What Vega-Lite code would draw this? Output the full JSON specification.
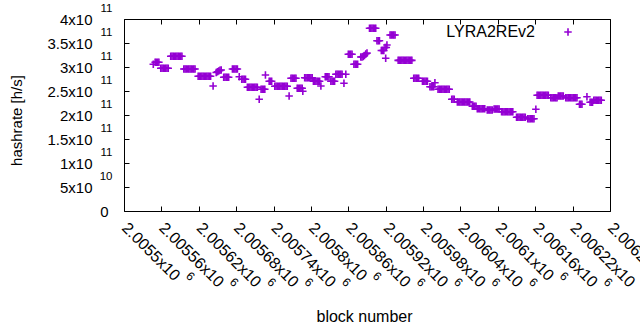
{
  "$schema": "https://vega.github.io/schema/vega-lite/v6.json",
  "width": 486,
  "height": 192,
  "autosize": {"type": "none"},
  "padding": {"left": 124, "top": 19, "right": 30, "bottom": 119},
  "background": "white",
  "config": {
    "view": {"stroke": "black", "strokeWidth": 1},
    "font": "Liberation Sans",
    "axis": {"domain": false, "grid": false, "labelFont": "Liberation Sans", "titleFont": "Liberation Sans", "labelColor": "black", "titleColor": "black", "tickColor": "black", "labelFontSize": 15, "titleFontSize": 15, "titleFontWeight": "normal", "tickWidth": 1, "labelOverlap": false, "labelFlush": false, "labelBound": false}
  },
  "data": {"values": [
    {"block":2005547,"hashrate":3.056e11},
    {"block":2005550,"hashrate":3.1e11},{"block":2005552,"hashrate":3.1e11},{"block":2005554,"hashrate":3.1e11},{"block":2005556,"hashrate":3.1e11},
    {"block":2005559,"hashrate":2.973e11},{"block":2005561,"hashrate":2.973e11},{"block":2005563,"hashrate":2.973e11},{"block":2005565,"hashrate":2.973e11},{"block":2005567,"hashrate":2.973e11},{"block":2005569,"hashrate":2.973e11},{"block":2005571,"hashrate":2.973e11},
    {"block":2005575,"hashrate":3.223e11},{"block":2005577,"hashrate":3.223e11},{"block":2005579,"hashrate":3.223e11},{"block":2005581,"hashrate":3.223e11},{"block":2005583,"hashrate":3.223e11},{"block":2005585,"hashrate":3.223e11},{"block":2005587,"hashrate":3.223e11},{"block":2005589,"hashrate":3.223e11},{"block":2005591,"hashrate":3.223e11},{"block":2005593,"hashrate":3.223e11},
    {"block":2005596,"hashrate":2.958e11},{"block":2005598,"hashrate":2.958e11},{"block":2005600,"hashrate":2.958e11},{"block":2005602,"hashrate":2.958e11},{"block":2005604,"hashrate":2.958e11},{"block":2005606,"hashrate":2.958e11},{"block":2005608,"hashrate":2.958e11},{"block":2005610,"hashrate":2.958e11},{"block":2005612,"hashrate":2.958e11},{"block":2005614,"hashrate":2.958e11},
    {"block":2005619,"hashrate":2.806e11},{"block":2005621,"hashrate":2.806e11},{"block":2005623,"hashrate":2.806e11},{"block":2005625,"hashrate":2.806e11},{"block":2005627,"hashrate":2.806e11},{"block":2005629,"hashrate":2.806e11},{"block":2005631,"hashrate":2.806e11},{"block":2005633,"hashrate":2.806e11},{"block":2005635,"hashrate":2.806e11},{"block":2005637,"hashrate":2.806e11},{"block":2005639,"hashrate":2.806e11},
    {"block":2005643,"hashrate":2.604e11},
    {"block":2005648,"hashrate":2.885e11},{"block":2005650,"hashrate":2.9e11},{"block":2005652,"hashrate":2.917e11},{"block":2005654,"hashrate":2.93e11},{"block":2005656,"hashrate":2.937e11},
    {"block":2005660,"hashrate":2.785e11},{"block":2005662,"hashrate":2.785e11},{"block":2005664,"hashrate":2.785e11},{"block":2005666,"hashrate":2.785e11},{"block":2005668,"hashrate":2.785e11},
    {"block":2005674,"hashrate":2.958e11},{"block":2005676,"hashrate":2.958e11},{"block":2005678,"hashrate":2.958e11},{"block":2005680,"hashrate":2.958e11},{"block":2005682,"hashrate":2.958e11},
    {"block":2005685,"hashrate":2.798e11},
    {"block":2005689,"hashrate":2.744e11},{"block":2005691,"hashrate":2.744e11},{"block":2005693,"hashrate":2.744e11},{"block":2005695,"hashrate":2.744e11},
    {"block":2005698,"hashrate":2.577e11},{"block":2005700,"hashrate":2.577e11},{"block":2005702,"hashrate":2.577e11},{"block":2005704,"hashrate":2.577e11},{"block":2005706,"hashrate":2.577e11},{"block":2005708,"hashrate":2.577e11},{"block":2005710,"hashrate":2.577e11},{"block":2005712,"hashrate":2.577e11},{"block":2005714,"hashrate":2.577e11},
    {"block":2005717,"hashrate":2.327e11},
    {"block":2005720,"hashrate":2.535e11},{"block":2005722,"hashrate":2.535e11},{"block":2005724,"hashrate":2.535e11},{"block":2005726,"hashrate":2.535e11},
    {"block":2005727,"hashrate":2.833e11},
    {"block":2005733,"hashrate":2.702e11},{"block":2005735,"hashrate":2.702e11},{"block":2005737,"hashrate":2.702e11},
    {"block":2005742,"hashrate":2.598e11},{"block":2005744,"hashrate":2.598e11},{"block":2005746,"hashrate":2.598e11},{"block":2005748,"hashrate":2.598e11},{"block":2005750,"hashrate":2.598e11},{"block":2005752,"hashrate":2.598e11},{"block":2005754,"hashrate":2.598e11},{"block":2005756,"hashrate":2.598e11},{"block":2005758,"hashrate":2.598e11},{"block":2005760,"hashrate":2.598e11},{"block":2005762,"hashrate":2.598e11},
    {"block":2005765,"hashrate":2.396e11},
    {"block":2005768,"hashrate":2.765e11},{"block":2005770,"hashrate":2.765e11},{"block":2005772,"hashrate":2.765e11},{"block":2005774,"hashrate":2.765e11},{"block":2005776,"hashrate":2.765e11},
    {"block":2005778,"hashrate":2.556e11},{"block":2005780,"hashrate":2.556e11},{"block":2005782,"hashrate":2.556e11},{"block":2005784,"hashrate":2.556e11},{"block":2005786,"hashrate":2.556e11},
    {"block":2005787,"hashrate":2.494e11},
    {"block":2005790,"hashrate":2.777e11},{"block":2005792,"hashrate":2.777e11},{"block":2005794,"hashrate":2.777e11},{"block":2005796,"hashrate":2.777e11},{"block":2005798,"hashrate":2.777e11},{"block":2005800,"hashrate":2.777e11},{"block":2005802,"hashrate":2.777e11},
    {"block":2005804,"hashrate":2.702e11},{"block":2005806,"hashrate":2.702e11},{"block":2005808,"hashrate":2.702e11},{"block":2005810,"hashrate":2.702e11},{"block":2005812,"hashrate":2.702e11},{"block":2005814,"hashrate":2.702e11},
    {"block":2005816,"hashrate":2.604e11},
    {"block":2005823,"hashrate":2.798e11},{"block":2005825,"hashrate":2.798e11},{"block":2005827,"hashrate":2.798e11},{"block":2005829,"hashrate":2.798e11},
    {"block":2005832,"hashrate":2.702e11},{"block":2005834,"hashrate":2.702e11},{"block":2005836,"hashrate":2.702e11},{"block":2005838,"hashrate":2.702e11},
    {"block":2005840,"hashrate":2.848e11},{"block":2005842,"hashrate":2.848e11},{"block":2005844,"hashrate":2.848e11},{"block":2005846,"hashrate":2.848e11},{"block":2005848,"hashrate":2.848e11},{"block":2005850,"hashrate":2.848e11},
    {"block":2005853,"hashrate":2.66e11},{"block":2005856,"hashrate":2.848e11},
    {"block":2005860,"hashrate":3.265e11},{"block":2005862,"hashrate":3.265e11},{"block":2005864,"hashrate":3.265e11},{"block":2005866,"hashrate":3.265e11},
    {"block":2005869,"hashrate":3.056e11},{"block":2005871,"hashrate":3.056e11},{"block":2005873,"hashrate":3.056e11},{"block":2005875,"hashrate":3.056e11},
    {"block":2005880,"hashrate":3.208e11},{"block":2005882,"hashrate":3.21e11},{"block":2005884,"hashrate":3.219e11},{"block":2005886,"hashrate":3.24e11},{"block":2005888,"hashrate":3.271e11},{"block":2005890,"hashrate":3.29e11},
    {"block":2005894,"hashrate":3.806e11},{"block":2005896,"hashrate":3.806e11},{"block":2005898,"hashrate":3.806e11},{"block":2005900,"hashrate":3.806e11},{"block":2005902,"hashrate":3.806e11},{"block":2005904,"hashrate":3.806e11},
    {"block":2005906,"hashrate":3.548e11},{"block":2005908,"hashrate":3.548e11},{"block":2005910,"hashrate":3.548e11},
    {"block":2005913,"hashrate":3.344e11},{"block":2005915,"hashrate":3.344e11},{"block":2005917,"hashrate":3.344e11},
    {"block":2005919,"hashrate":3.406e11},{"block":2005921,"hashrate":3.406e11},
    {"block":2005922,"hashrate":3.458e11},{"block":2005920,"hashrate":3.181e11},
    {"block":2005927,"hashrate":3.667e11},{"block":2005929,"hashrate":3.667e11},{"block":2005931,"hashrate":3.667e11},{"block":2005933,"hashrate":3.667e11},{"block":2005935,"hashrate":3.667e11},
    {"block":2005940,"hashrate":3.139e11},{"block":2005942,"hashrate":3.139e11},{"block":2005944,"hashrate":3.139e11},{"block":2005946,"hashrate":3.139e11},{"block":2005948,"hashrate":3.139e11},{"block":2005950,"hashrate":3.139e11},{"block":2005952,"hashrate":3.139e11},{"block":2005954,"hashrate":3.139e11},{"block":2005956,"hashrate":3.139e11},{"block":2005958,"hashrate":3.139e11},{"block":2005960,"hashrate":3.139e11},{"block":2005962,"hashrate":3.139e11},
    {"block":2005965,"hashrate":2.765e11},{"block":2005967,"hashrate":2.765e11},{"block":2005969,"hashrate":2.765e11},{"block":2005971,"hashrate":2.765e11},{"block":2005973,"hashrate":2.765e11},
    {"block":2005979,"hashrate":2.702e11},{"block":2005981,"hashrate":2.702e11},{"block":2005983,"hashrate":2.702e11},{"block":2005985,"hashrate":2.702e11},{"block":2005987,"hashrate":2.702e11},
    {"block":2005991,"hashrate":2.59e11},{"block":2005993,"hashrate":2.59e11},{"block":2005995,"hashrate":2.59e11},{"block":2005997,"hashrate":2.59e11},
    {"block":2005999,"hashrate":2.673e11},
    {"block":2006004,"hashrate":2.535e11},{"block":2006006,"hashrate":2.535e11},{"block":2006008,"hashrate":2.535e11},{"block":2006010,"hashrate":2.535e11},{"block":2006012,"hashrate":2.535e11},{"block":2006014,"hashrate":2.535e11},{"block":2006016,"hashrate":2.535e11},{"block":2006018,"hashrate":2.535e11},{"block":2006020,"hashrate":2.535e11},{"block":2006022,"hashrate":2.535e11},
    {"block":2006026,"hashrate":2.327e11},{"block":2006028,"hashrate":2.327e11},{"block":2006030,"hashrate":2.327e11},
    {"block":2006035,"hashrate":2.271e11},{"block":2006037,"hashrate":2.271e11},{"block":2006039,"hashrate":2.271e11},{"block":2006041,"hashrate":2.271e11},{"block":2006043,"hashrate":2.271e11},{"block":2006045,"hashrate":2.271e11},{"block":2006047,"hashrate":2.271e11},{"block":2006049,"hashrate":2.271e11},{"block":2006051,"hashrate":2.271e11},{"block":2006053,"hashrate":2.271e11},{"block":2006055,"hashrate":2.271e11},
    {"block":2006059,"hashrate":2.181e11},{"block":2006061,"hashrate":2.181e11},{"block":2006063,"hashrate":2.181e11},{"block":2006065,"hashrate":2.181e11},
    {"block":2006067,"hashrate":2.131e11},{"block":2006069,"hashrate":2.131e11},{"block":2006071,"hashrate":2.131e11},{"block":2006073,"hashrate":2.131e11},{"block":2006075,"hashrate":2.131e11},{"block":2006077,"hashrate":2.131e11},{"block":2006079,"hashrate":2.131e11},
    {"block":2006083,"hashrate":2.104e11},{"block":2006085,"hashrate":2.104e11},{"block":2006087,"hashrate":2.104e11},{"block":2006089,"hashrate":2.104e11},{"block":2006091,"hashrate":2.104e11},
    {"block":2006094,"hashrate":2.125e11},{"block":2006096,"hashrate":2.125e11},{"block":2006098,"hashrate":2.125e11},{"block":2006100,"hashrate":2.125e11},{"block":2006102,"hashrate":2.125e11},
    {"block":2006106,"hashrate":2.069e11},{"block":2006108,"hashrate":2.069e11},{"block":2006110,"hashrate":2.069e11},{"block":2006112,"hashrate":2.069e11},{"block":2006114,"hashrate":2.069e11},{"block":2006116,"hashrate":2.069e11},{"block":2006118,"hashrate":2.069e11},{"block":2006120,"hashrate":2.069e11},{"block":2006122,"hashrate":2.069e11},{"block":2006124,"hashrate":2.069e11},
    {"block":2006130,"hashrate":1.952e11},{"block":2006132,"hashrate":1.952e11},{"block":2006134,"hashrate":1.952e11},{"block":2006136,"hashrate":1.952e11},{"block":2006138,"hashrate":1.952e11},{"block":2006140,"hashrate":1.952e11},{"block":2006142,"hashrate":1.952e11},{"block":2006144,"hashrate":1.952e11},
    {"block":2006148,"hashrate":1.923e11},{"block":2006150,"hashrate":1.923e11},{"block":2006152,"hashrate":1.923e11},{"block":2006154,"hashrate":1.923e11},{"block":2006156,"hashrate":1.923e11},{"block":2006158,"hashrate":1.923e11},
    {"block":2006161,"hashrate":2.119e11},
    {"block":2006163,"hashrate":2.41e11},{"block":2006165,"hashrate":2.41e11},{"block":2006167,"hashrate":2.41e11},{"block":2006169,"hashrate":2.41e11},{"block":2006171,"hashrate":2.41e11},{"block":2006173,"hashrate":2.41e11},{"block":2006175,"hashrate":2.41e11},{"block":2006177,"hashrate":2.41e11},{"block":2006179,"hashrate":2.41e11},{"block":2006181,"hashrate":2.41e11},
    {"block":2006185,"hashrate":2.36e11},{"block":2006187,"hashrate":2.36e11},{"block":2006189,"hashrate":2.36e11},{"block":2006191,"hashrate":2.36e11},{"block":2006193,"hashrate":2.36e11},{"block":2006195,"hashrate":2.36e11},
    {"block":2006197,"hashrate":2.396e11},{"block":2006199,"hashrate":2.396e11},{"block":2006201,"hashrate":2.396e11},{"block":2006203,"hashrate":2.396e11},{"block":2006205,"hashrate":2.396e11},
    {"block":2006209,"hashrate":2.36e11},{"block":2006211,"hashrate":2.36e11},{"block":2006213,"hashrate":2.36e11},{"block":2006215,"hashrate":2.36e11},{"block":2006217,"hashrate":2.36e11},{"block":2006219,"hashrate":2.36e11},{"block":2006221,"hashrate":2.36e11},{"block":2006223,"hashrate":2.36e11},{"block":2006225,"hashrate":2.36e11},{"block":2006227,"hashrate":2.36e11},
    {"block":2006231,"hashrate":2.223e11},{"block":2006233,"hashrate":2.223e11},{"block":2006235,"hashrate":2.223e11},
    {"block":2006243,"hashrate":2.381e11},
    {"block":2006248,"hashrate":2.265e11},{"block":2006250,"hashrate":2.265e11},{"block":2006252,"hashrate":2.265e11},
    {"block":2006254,"hashrate":2.306e11},{"block":2006256,"hashrate":2.306e11},{"block":2006258,"hashrate":2.306e11},{"block":2006260,"hashrate":2.306e11},{"block":2006262,"hashrate":2.306e11},{"block":2006264,"hashrate":2.306e11},{"block":2006266,"hashrate":2.306e11}
  ]},
  "layer": [
    {
      "mark": {"type": "point", "shape": "M-1,0H1M0,-1V1", "filled": false, "strokeWidth": 1.6, "size": 56, "opacity": 1},
      "encoding": {
        "x": {"field": "block", "type": "quantitative", "scale": {"domain": [2005500, 2006280], "nice": false, "zero": false},
          "axis": {"orient": "bottom", "values": [2005500,2005560,2005620,2005680,2005740,2005800,2005860,2005920,2005980,2006040,2006100,2006160,2006220,2006280],
            "labelExpr": "(datum.value/1000000) + 'x10'", "labelAngle": 45, "labelAlign": "left", "labelBaseline": "middle", "labelFontSize": 16,
            "tickSize": -5, "labelPadding": 19, "title": "block number", "titleFontSize": 16, "titleX": 240, "titleY": 105, "titleBaseline": "middle", "titleAlign": "center", "titleAngle": 0}},
        "y": {"field": "hashrate", "type": "quantitative", "scale": {"domain": [0, 400000000000], "nice": false, "zero": true},
          "axis": {"orient": "left", "values": [0,50000000000,100000000000,150000000000,200000000000,250000000000,300000000000,350000000000,400000000000],
            "labelExpr": "datum.value == 0 ? '0' : (datum.value < 100000000000 ? (datum.value/10000000000) + 'x10' : (datum.value/100000000000) + 'x10')",
            "labelAlign": "right", "labelBaseline": "middle", "tickSize": -5,
            "labelPadding": {"condition": {"test": "datum.value == 0", "value": 21}, "value": 37},
            "title": "hashrate [h/s]", "titleX": -108, "titleY": 101, "titleAngle": 270, "titleAlign": "center", "titleBaseline": "middle"}},
        "color": {"datum": "LYRA2REv2", "type": "nominal", "scale": {"range": ["#9400d3"]},
          "legend": {"orient": "none", "legendX": 436, "legendY": 5, "title": null, "symbolType": "M-1,0H1M0,-1V1", "symbolSize": 56, "symbolStrokeWidth": 1.6, "labelFontSize": 16, "labelFont": "Liberation Sans", "labelColor": "black", "labelAlign": "right", "labelOffset": -41, "padding": 0}}
      }
    },
    {
      "mark": {"type": "point", "opacity": 0},
      "encoding": {
        "x": {"field": "block", "type": "quantitative", "scale": {"domain": [2005500, 2006280], "nice": false, "zero": false},
          "axis": {"orient": "bottom", "values": [2005500,2005560,2005620,2005680,2005740,2005800,2005860,2005920,2005980,2006040,2006100,2006160,2006220,2006280],
            "labelExpr": "'6'", "labelAngle": 45, "labelAlign": "left", "labelBaseline": "middle", "labelFontSize": 12,
            "ticks": false,
            "labelPadding": {"condition": {"test": "datum.value % 100 != 0", "value": 68.5}, "value": 62.5},
            "labelOffset": {"condition": {"test": "datum.value % 100 != 0", "value": 70}, "value": 63.5},
            "title": null}},
        "y": {"field": "hashrate", "type": "quantitative", "scale": {"domain": [0, 400000000000], "nice": false, "zero": true},
          "axis": {"orient": "left", "values": [0,50000000000,100000000000,150000000000,200000000000,250000000000,300000000000,350000000000,400000000000],
            "labelExpr": "datum.value == 0 ? '' : (datum.value < 100000000000 ? '10' : '11')",
            "labelAlign": "right", "labelBaseline": "middle", "labelFontSize": 11.5, "ticks": false, "labelPadding": 12, "labelOffset": -10.5, "title": null}}
      }
    },
    {
      "mark": {"type": "point", "opacity": 0},
      "encoding": {
        "x": {"field": "block", "type": "quantitative", "scale": {"domain": [2005500, 2006280], "nice": false, "zero": false},
          "axis": {"orient": "top", "values": [2005500,2005560,2005620,2005680,2005740,2005800,2005860,2005920,2005980,2006040,2006100,2006160,2006220,2006280],
            "labels": false, "tickSize": -5, "title": null}},
        "y": {"field": "hashrate", "type": "quantitative", "scale": {"domain": [0, 400000000000], "nice": false, "zero": true},
          "axis": {"orient": "right", "values": [0,50000000000,100000000000,150000000000,200000000000,250000000000,300000000000,350000000000,400000000000],
            "labels": false, "tickSize": -5, "title": null}}
      }
    }
  ],
  "resolve": {"axis": {"x": "independent", "y": "independent"}}
}
